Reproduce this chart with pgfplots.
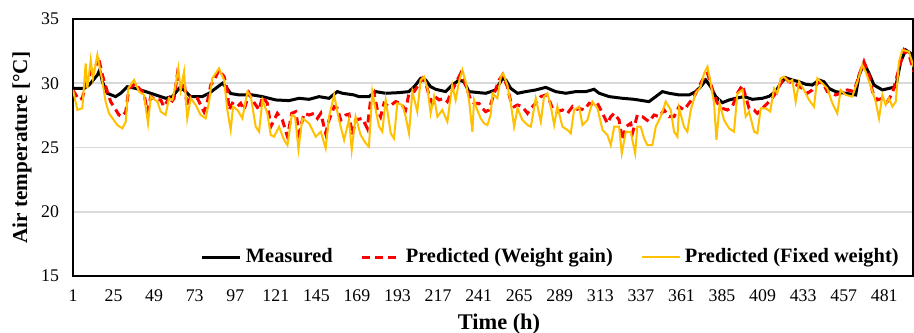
\documentclass[border=0pt]{standalone}
\usepackage{pgfplots}
\pgfplotsset{compat=1.18}
\usepackage{fontspec}
\setmainfont{Liberation Serif}
\usetikzlibrary{calc}
\definecolor{gold}{HTML}{FFC000}
\definecolor{gridgray}{HTML}{D9D9D9}
\begin{document}
\begin{tikzpicture}
\begin{axis}[
  scale only axis, width=420pt, height=128.5pt,
  xmin=1, xmax=498, ymin=15, ymax=35,
  xtick={1,25,...,481}, ytick={15,20,...,35},
  major tick length=0pt,
  ymajorgrids, grid style={gridgray, line width=0.8pt},
  axis line style={black, line width=1pt},
  tick label style={font=\fontsize{8.9}{10}\selectfont},
  /pgf/number format/assume math mode=true,
  /pgf/number format/set thousands separator={},
  xticklabel style={yshift=-3.5pt},
  yticklabel style={xshift=-3.5pt},
  xlabel={Time (h)}, ylabel={Air temperature [°C]},
  every axis x label/.style={at={(rel axis cs:0.5,0)}, anchor=base, yshift=-27pt, xshift=3pt, font=\fontsize{11.2}{13}\selectfont\bfseries},
  every axis y label/.style={at={(rel axis cs:0,0.5)}, rotate=90, anchor=center, yshift=25.5pt, font=\fontsize{10.6}{12}\selectfont\bfseries},
  legend style={at={(rel axis cs:1,0)}, anchor=south east, xshift=-2pt, yshift=1pt, draw=none, fill=none, font=\fontsize{10.2}{12}\selectfont\bfseries, /tikz/every even column/.append style={column sep=12pt}},
  legend columns=3,
  legend image code/.code={\draw[#1] (0pt,0pt) -- (19pt,0pt);},
]
\addplot[black, line width=1.5pt] coordinates {
(1,29.6)(7.5,29.6)(10.5,29.86)(15.4,30.64)(16.8,31.03)(18.4,30.12)(21.3,29.22)(26.2,28.96)(29.2,29.22)(33.1,29.73)(38.1,29.6)(44,29.35)(49.9,29.09)(55.8,28.83)(59.8,28.96)(63.7,29.6)(66.7,29.48)(70.6,28.96)(77.5,28.96)(81.5,29.22)(85.4,29.6)(89.4,30.0)(91.4,29.73)(94.3,29.2)(99.3,29.09)(107.1,29.09)(113.1,28.96)(121,28.7)(128.8,28.65)(134.8,28.83)(140.7,28.75)(146.6,28.96)(152.5,28.83)(157.4,29.35)(160.4,29.22)(167.3,29.09)(170.2,28.96)(176.1,28.96)(180.1,29.35)(186,29.22)(193.9,29.27)(199.8,29.35)(203.7,29.86)(206.7,30.38)(209.7,30.25)(212.6,29.73)(215.6,29.53)(221.5,29.35)(225.4,29.86)(229.4,30.25)(232.3,30.12)(235.3,29.35)(241.2,29.27)(245.2,29.22)(251.1,29.48)(255.1,30.38)(257.1,30.25)(260,29.6)(264,29.22)(268.9,29.35)(274.8,29.48)(280.7,29.68)(286.6,29.35)(292.6,29.22)(298.5,29.35)(304.4,29.35)(309.3,29.53)(312.3,29.22)(318.2,28.96)(326.1,28.83)(333,28.75)(341.8,28.57)(345.8,28.96)(349.7,29.35)(353.7,29.22)(359.6,29.09)(365.5,29.09)(369.4,29.35)(372.4,29.73)(375.4,30.25)(378.3,29.73)(381.3,28.96)(385.2,28.49)(389.2,28.7)(393.1,28.83)(398,28.96)(403,28.75)(408.9,28.83)(412.8,28.98)(416.7,29.35)(419.7,29.99)(422.7,30.43)(426.6,30.25)(430.6,30.12)(434.5,29.92)(438.4,29.86)(442.4,30.25)(445.3,30.12)(448.3,29.6)(452.2,29.35)(458.2,29.22)(464.1,29.09)(466.1,30.64)(469,31.55)(472,30.77)(474.9,29.86)(479.9,29.48)(483.8,29.6)(487.8,29.73)(490.7,31.68)(493.7,32.59)(496.6,32.33)(498.6,31.16)
};
\addlegendentry{Measured}
\addplot[red, line width=1.5pt, dash pattern=on 4pt off 2.5pt] coordinates {
(1,29.47)(4.5,28.7)(6.5,28.83)(8.5,29.86)(12.4,31.16)(14.4,31.29)(16,32.07)(18.4,30.64)(21.3,29.35)(23.3,28.57)(28.2,27.53)(30.2,27.4)(32.2,27.79)(34.1,29.6)(38.1,29.99)(40.1,29.6)(43,29.22)(45,27.79)(47,28.96)(49.9,28.7)(52.9,28.7)(54.8,28.18)(57.8,28.83)(58.8,28.44)(60.8,28.83)(62.7,30.64)(64.7,29.6)(66.7,30.12)(68.6,28.18)(70.6,28.96)(74.6,28.83)(78.5,27.79)(80.5,28.57)(82.5,29.86)(84.5,30.25)(87.4,31.03)(90.4,30.51)(92.3,29.48)(93.3,27.92)(95.3,28.44)(98.3,28.18)(100.2,28.44)(102.2,27.92)(105.2,29.22)(107.1,28.7)(111.1,27.92)(113.1,28.96)(116,28.44)(118,26.62)(120,27.14)(121.9,27.66)(124.9,27.14)(127.9,25.84)(130.4,27.66)(132.8,27.79)(134.8,26.1)(137.7,27.66)(140.7,27.53)(143.6,27.66)(145.6,27.27)(147.6,27.66)(150.5,26.1)(152.5,27.14)(155.5,28.18)(157.4,28.05)(159.4,27.14)(162.4,27.53)(164.3,27.6)(166.3,25.97)(168.2,27.14)(172.2,27.27)(175.1,26.49)(177.1,28.7)(179.1,29.22)(181.1,27.92)(183,27.4)(185,28.44)(188,28.18)(191.9,28.57)(194.9,28.44)(197.8,27.92)(199.8,29.22)(202.8,29.35)(204.7,29.73)(207.7,30.38)(209.7,29.99)(211.6,29.09)(213.6,28.44)(215.2,28.96)(217.6,28.7)(220.5,28.83)(222.5,28.57)(224.5,29.22)(227.4,29.99)(230.4,30.77)(232.3,30.25)(234.3,29.48)(236.3,28.7)(238.3,28.44)(241.2,28.44)(243.2,28.05)(245.2,27.79)(247.1,27.92)(250.2,29.22)(253.1,30.25)(255.1,30.64)(258,29.73)(260,28.57)(262,28.18)(264,28.31)(266.9,28.18)(269.9,27.66)(271.9,28.05)(274.8,28.44)(277.8,28.96)(280.7,29.09)(282.7,28.7)(284.7,28.05)(287.6,27.79)(290.6,27.92)(293.6,27.66)(296.5,28.18)(298.5,27.92)(300.5,28.05)(303.4,27.92)(306.4,28.44)(309.3,28.31)(311.3,28.44)(314.3,27.66)(317.2,26.88)(319.2,27.4)(321.2,27.66)(324.1,27.14)(326.1,25.58)(328.1,26.62)(331,26.88)(332,26.1)(334.9,27.53)(337.9,27.4)(341.8,27.01)(344.8,27.53)(347.8,27.4)(350.7,27.92)(353.7,27.4)(356.6,27.4)(359.6,28.18)(362.5,27.92)(365.5,28.44)(368.5,28.96)(371.4,29.73)(374.4,30.51)(376.4,30.77)(378.3,29.99)(380.3,29.09)(382.3,28.44)(385.2,28.05)(388.2,27.92)(391.1,28.18)(394.1,29.22)(397.1,29.86)(399,28.96)(401,28.05)(404,27.92)(405.9,27.66)(407.9,27.92)(410.9,28.31)(413.8,28.7)(416.7,29.22)(421.7,30.51)(424.6,30.12)(427.6,29.99)(432.5,29.6)(435.5,29.22)(438.4,29.48)(442.4,30.12)(445.3,29.86)(447.3,29.35)(452.2,29.09)(455.2,29.22)(459.2,29.48)(463.1,29.35)(466.1,30.64)(469,31.68)(472,30.64)(474,29.35)(476.9,28.7)(479.9,28.83)(482.8,28.57)(485.8,29.22)(488.7,30.64)(492.7,32.59)(495.6,32.2)(498.6,30.9)
};
\addlegendentry{Predicted (Weight gain)}
\addplot[gold, line width=1pt] coordinates {
(1,29.47)(3.6,27.92)(6.5,28.05)(8.5,31.55)(9.5,29.6)(11.5,31.81)(12.8,30.38)(14,31.16)(15.4,32.2)(18.4,30.12)(20.3,28.57)(22.3,27.66)(27.2,26.75)(30.2,26.49)(32.2,27.01)(33.7,29.6)(37.1,30.25)(40.1,29.35)(43,29.09)(45.4,26.88)(47,28.96)(50.9,28.57)(52.9,27.79)(55.8,27.53)(57.8,28.83)(59.8,28.7)(61.7,29.86)(63.3,31.16)(64.7,29.47)(66.7,30.9)(68.6,27.27)(70.6,28.83)(73.6,28.31)(76.5,27.53)(79.5,27.27)(81.5,28.57)(83.4,30.38)(85.4,30.77)(87.4,31.16)(90.4,30.25)(92.3,27.92)(94.3,26.36)(95.7,28.18)(98.3,27.92)(101.2,27.27)(104.2,29.35)(106.2,28.96)(109.1,26.62)(111.1,26.23)(113.1,28.7)(116,27.66)(118,25.97)(120,25.84)(122.9,26.62)(125.9,25.58)(127.9,25.19)(130.4,27.53)(132.4,27.4)(134.4,24.86)(136.7,27.27)(140.7,26.88)(144.6,25.84)(147.6,26.23)(150.5,24.94)(152.5,27.4)(155.5,29.09)(158.4,27.14)(161.4,25.58)(164.3,27.2)(165.9,24.81)(168.2,27.4)(171.2,25.97)(174.2,25.33)(176.1,25.07)(178.1,29.35)(180.1,27.92)(182.1,26.62)(184,26.23)(186,28.7)(189,26.1)(190.9,25.71)(192.9,28.44)(195.9,28.31)(197.8,27.4)(199.8,26.1)(201.8,29.35)(204.7,27.79)(206.7,30.25)(208.7,30.51)(210.7,29.6)(212.6,27.66)(214.6,28.96)(216.6,27.4)(219.5,27.92)(222.5,27.01)(225.4,29.86)(227.4,28.7)(229.4,30.12)(231.4,31.03)(233.3,30.12)(235.3,28.7)(237.3,26.23)(238.3,28.7)(240.2,27.92)(242.2,27.27)(244.2,26.88)(246.2,26.75)(248.1,27.53)(249.2,29.22)(252.1,28.83)(254.1,30.51)(255.5,30.77)(258,29.86)(260,28.44)(262,26.62)(264,28.05)(266.9,27.14)(269.9,26.75)(271.9,26.62)(274.8,28.83)(277.8,27.01)(279.7,28.96)(281.7,29.22)(283.7,28.18)(285.7,26.75)(287.6,28.18)(290.6,26.62)(293.6,26.36)(295.5,26.1)(297.5,27.92)(300.5,28.18)(302.4,26.75)(305.4,27.14)(308.3,28.57)(311.3,28.05)(314.3,26.36)(317.2,25.97)(319.2,25.19)(321.2,26.62)(324.1,26.62)(325.7,24.55)(328.1,26.23)(331,26.2)(333.6,24.55)(334.9,26.62)(336.9,26.62)(338.9,25.71)(340.8,25.19)(343.8,25.19)(345.8,26.62)(348.7,27.4)(351.7,28.57)(354.7,27.92)(356.6,26.23)(358.6,25.84)(359.6,28.05)(362.5,26.62)(364.5,26.23)(366.5,27.92)(369.4,29.22)(372.4,29.73)(374.4,30.77)(376.4,31.29)(378.3,29.99)(380.3,28.44)(381.7,25.58)(383.6,28.44)(386.2,27.14)(389.2,26.49)(392.1,26.23)(394.1,29.22)(397.1,29.48)(399,27.4)(401,27.79)(404,26.23)(405.9,26.1)(407.9,28.05)(410.9,28.05)(413.5,27.8)(415.8,29.6)(417.7,29.22)(419.7,30.38)(421.7,30.51)(424.6,30.12)(426.6,30.25)(428.6,28.57)(430.6,30.12)(433.5,29.47)(436.5,28.7)(439.4,28.18)(441.4,30.38)(444.4,29.99)(447.3,29.6)(450.3,28.44)(453.2,27.66)(455.2,29.47)(458.2,29.09)(462.1,28.96)(465.1,30.12)(468,31.42)(470,30.9)(474,29.35)(475.9,28.57)(477.9,27.27)(479.9,29.09)(481.8,28.31)(483.8,28.83)(485.8,28.18)(487.8,28.57)(489.7,31.68)(491.7,32.59)(495.6,32.46)(498.6,31.16)
};
\addlegendentry{Predicted (Fixed weight)}
\coordinate (bl) at (rel axis cs:0,0);
\coordinate (tr) at (rel axis cs:1,1);
\end{axis}
\pgfresetboundingbox
\path[use as bounding box] ($(bl)+(-36.5pt,-28.5pt)$) rectangle ($(tr)+(0.5pt,9.5pt)$);
\end{tikzpicture}
\end{document}
